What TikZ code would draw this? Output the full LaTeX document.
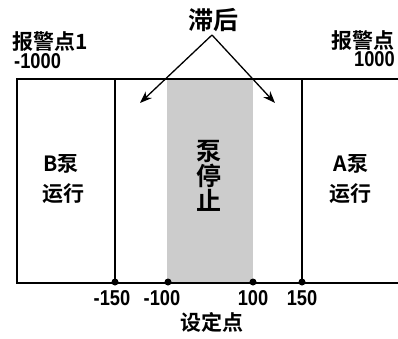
\documentclass[tikz,border=0pt]{standalone}
\usepackage{fontspec}
\setmainfont{Liberation Sans}
\newfontfamily\numf{Liberation Sans}[FakeStretch=0.85]
\newfontfamily\cjk{Noto Sans CJK SC}[BoldFont=* Bold]
\usetikzlibrary{arrows.meta}
\begin{document}
\begin{tikzpicture}[x=1pt,y=-1pt,
  lbl/.style={inner sep=0pt,font=\cjk\bfseries\fontsize{21}{23}\selectfont},
  num/.style={inner sep=0pt,font=\numf\bfseries\fontsize{21.5}{23}\selectfont},
  frame/.style={line width=1.4pt},
  vline/.style={line width=1.1pt},
  dot/.style={circle,fill=black,inner sep=0pt,minimum size=7pt},
  arr/.style={line width=1.3pt,-{Stealth[length=12pt,width=9pt]}}]
\useasboundingbox (0,0) rectangle (398,339);
% shaded band
\fill[gray!40] (167,79) rectangle (253,283);
% frame
\draw[frame] (398,79) -- (17,79) -- (17,283) -- (398,283);
\draw[vline] (115,79) -- (115,283);
\draw[vline] (302,79) -- (302,283);
% dots
\node[dot] (d1) at (115,282) {};
\node[dot] (d2) at (168,282) {};
\node[dot] (d3) at (253,282) {};
\node[dot] (d4) at (302,282) {};
% top labels
\node[lbl,anchor=west] (al1) at (12,42) {报警点1};
\node[num,anchor=west] (al1n) at (14,61) {-1000};
\node[lbl,anchor=east] (al2) at (395,41) {报警点};
\node[num,anchor=east] (al2n) at (395,59) {1000};
% hysteresis
\node[lbl,font=\cjk\bfseries\fontsize{25}{27}\selectfont] (hys) at (213,20) {滞后};
\coordinate (apex) at (212,35);
\coordinate (tl) at (140,103);
\coordinate (tr) at (275,103);
\draw[arr] (apex) -- (tl);
\draw[arr] (apex) -- (tr);
% pumps
\node[lbl] (b1) at (61,164) {B泵};
\node[lbl] (b2) at (63,194) {运行};
\node[lbl] (a1) at (351,164) {A泵};
\node[lbl] (a2) at (350,194) {运行};
\node[lbl,font=\cjk\bfseries\fontsize{25}{25}\selectfont,align=center] (stop) at (209,176) {泵\\停\\止};
% axis labels
\node[num] (m150) at (112,298) {-150};
\node[num] (m100) at (162,298) {-100};
\node[num] (p100) at (253,298) {100};
\node[num] (p150) at (302,298) {150};
\node[lbl] (sp) at (212,322) {设定点};
\end{tikzpicture}
\end{document}
